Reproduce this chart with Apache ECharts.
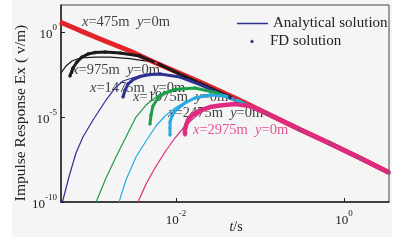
<!DOCTYPE html>
<html>
<head>
<meta charset="utf-8">
<script src="https://cdn.jsdelivr.net/npm/echarts@6/dist/echarts.min.js"></script>
<style>
  html, body { margin: 0; padding: 0; background: #fff; }
  #chart { width: 402px; height: 244px; }
</style>
</head>
<body>
<div id="chart"></div>
<script>
// tick values (t in s, Ex in v/m)
const xTickVals = [1e-2, 1e0];
const yTickVals = [1e-10, 1e-5, 1e0];

// offsets and labels
const offsets = ['475', '975', '1475', '1975', '2475', '2975'];
const curveColors = ['#e3242b', '#1a1a1a', '#2e3192', '#1f9e4a', '#27aae1', '#de2a7f'];

// anchor of each curve label [t, Ex]
const labelAnchors = [
  [7.6e-4, 3.9], [5.78e-4, 5.82e-3], [9.46e-4, 5.08e-4],
  [3.08e-3, 1.5e-4], [8.03e-3, 1.72e-5], [1.59e-2, 1.72e-6]
];

// late-time part, shared by every offset
const lateTime = [[0.121, 1.61e-5], [0.299, 1.84e-6], [0.681, 2.76e-7], [1.55, 3.87e-8], [3.43, 5.43e-9]];

// analytical solution
const ana475 = [[4.16e-4, 3.88], [7.2e-4, 1.22], [1.25e-3, 0.388], [2.83e-3, 0.0762], [5.78e-3, 0.0150],
  [1.93e-2, 1.15e-3], [5.04e-2, 1.31e-4]];
const ana975 = [[4.28e-4, 3.88e-3], [4.9e-4, 1.0e-2], [5.78e-4, 1.97e-2], [7.2e-4, 2.96e-2], [1.09e-3, 3.38e-2],
  [1.64e-3, 3.38e-2], [2.83e-3, 2.76e-2], [4.9e-3, 1.84e-2], [7.4e-3, 8.16e-3], [1.28e-2, 2.41e-3],
  [1.93e-2, 1.0e-3], [4.4e-2, 1.5e-4]];
const ana1475 = [[4.45e-4, 1.0e-10], [5.32e-4, 2.96e-9], [6.45e-4, 7.62e-8], [7.81e-4, 6.66e-7], [1.03e-3, 6.66e-6],
  [1.47e-3, 1.0e-4], [1.88e-3, 5.08e-4], [2.34e-3, 1.31e-3], [3.73e-3, 2.76e-3], [6.45e-3, 3.38e-3],
  [1.12e-2, 2.25e-3], [1.93e-2, 8.16e-4], [4.4e-2, 1.31e-4]];
const ana1975 = [[1.12e-3, 1.0e-10], [1.47e-3, 2.58e-9], [1.93e-3, 4.44e-8], [2.54e-3, 6.66e-7], [3.34e-3, 1.0e-5],
  [4.4e-3, 5.08e-5], [6.45e-3, 2.25e-4], [9.73e-3, 4.75e-4], [1.68e-2, 5.43e-4], [2.91e-2, 2.76e-4],
  [5.78e-2, 8.16e-5]];
const ana2475 = [[2.1e-3, 1.0e-10], [2.54e-3, 1.97e-9], [3.34e-3, 4.44e-8], [4.4e-3, 3.87e-7], [5.78e-3, 2.96e-6],
  [7.4e-3, 1.15e-5], [9.73e-3, 3.38e-5], [1.28e-2, 7.62e-5], [1.68e-2, 1.4e-4], [2.54e-2, 1.97e-4],
  [3.83e-2, 1.72e-4], [5.78e-2, 8.16e-5]];
const ana2975 = [[3.53e-3, 1.0e-10], [4.4e-3, 1.15e-9], [5.62e-3, 1.0e-8], [7.4e-3, 8.73e-8], [9.73e-3, 5.82e-7],
  [1.28e-2, 2.96e-6], [1.68e-2, 1.0e-5], [2.21e-2, 2.58e-5], [3.34e-2, 4.75e-5], [5.04e-2, 5.82e-5],
  [7.6e-2, 4.44e-5]];

// FD solution
const fd475 = ana475;
const fd975 = [[5.47e-4, 2.58e-3], [5.94e-4, 7.62e-3], [6.63e-4, 1.72e-2], [7.6e-4, 3.38e-2], [8.96e-4, 5.08e-2],
  [1.09e-3, 6.22e-2], [1.43e-3, 6.66e-2], [2.16e-3, 5.82e-2], [3.73e-3, 3.88e-2], [6.45e-3, 1.22e-2],
  [1.28e-2, 2.41e-3], [1.93e-2, 1.0e-3], [4.4e-2, 1.5e-4]];
const fd1475 = [[2.34e-3, 1.5e-4], [2.48e-3, 3.88e-4], [2.68e-3, 8.73e-4], [3.08e-3, 1.61e-3], [3.73e-3, 2.41e-3],
  [4.9e-3, 3.16e-3], [6.45e-3, 3.38e-3], [1.12e-2, 2.25e-3], [1.93e-2, 8.16e-4], [4.4e-2, 1.31e-4]];
const fd1975 = [[4.9e-3, 3.87e-6], [5.04e-3, 1.31e-5], [5.32e-3, 4.44e-5], [6.11e-3, 1.31e-4], [7.4e-3, 2.58e-4],
  [9.73e-3, 4.15e-4], [1.68e-2, 5.08e-4], [2.91e-2, 2.76e-4], [5.78e-2, 8.16e-5]];
const fd2475 = [[8.49e-3, 8.73e-7], [8.49e-3, 2.25e-6], [8.49e-3, 5.08e-6], [8.96e-3, 1.15e-5], [1.0e-2, 2.58e-5],
  [1.28e-2, 6.66e-5], [1.68e-2, 1.31e-4], [2.54e-2, 1.97e-4], [3.83e-2, 1.72e-4], [5.78e-2, 8.16e-5]];
const fd2975 = [[1.28e-2, 8.73e-7], [1.28e-2, 1.72e-6], [1.32e-2, 3.38e-6], [1.39e-2, 6.66e-6], [1.55e-2, 1.31e-5],
  [1.93e-2, 2.41e-5], [2.54e-2, 3.88e-5], [3.34e-2, 4.75e-5], [5.04e-2, 5.82e-5], [7.6e-2, 4.44e-5]];

const anaList = [ana475, ana975, ana1475, ana1975, ana2475, ana2975];
const fdList = [fd475, fd975, fd1475, fd1975, fd2475, fd2975];
const fdWidths = [5, 3, 3, 3, 3, 4.5];

const SERIF = '"Liberation Serif", "DejaVu Serif", serif';
const legendColor = '#2e3192';

function powLabel(v) {
  const e = Math.round(Math.log10(v));
  return '{b|10}{s|' + (e < 0 ? '-' + (-e) : e) + '}';
}
const powRich = {
  b: { fontFamily: SERIF, fontSize: 13, color: '#222', lineHeight: 18, verticalAlign: 'bottom' },
  s: { fontFamily: SERIF, fontSize: 9, color: '#222', lineHeight: 18, verticalAlign: 'top' }
};

const series = [];

// curve labels, under the curves
series.push({
  name: 'labels',
  type: 'scatter',
  symbolSize: 0.1,
  itemStyle: { color: 'rgba(0,0,0,0)' },
  silent: true,
  z: 1,
  data: labelAnchors.map((p, i) => ({ value: p, name: offsets[i] })),
  label: {
    show: true,
    position: 'right',
    distance: 0,
    formatter: p => '{i|x}=' + p.name + 'm  {i|y}=0m',
    fontFamily: SERIF,
    fontSize: 14.5,
    color: '#111',
    rich: { i: { fontFamily: SERIF, fontSize: 14.5, fontStyle: 'italic' } }
  },
  labelLayout: { hideOverlap: false }
});
// last label is magenta
series[0].data[5].label = { color: curveColors[5], rich: { i: { color: curveColors[5], fontStyle: 'italic', fontFamily: SERIF, fontSize: 14.5 } } };

offsets.forEach((o, i) => {
  series.push({
    name: 'Analytical solution',
    type: 'line',
    symbol: 'none',
    z: 2,
    lineStyle: { color: curveColors[i], width: 1.2 },
    itemStyle: { color: curveColors[i] },
    data: anaList[i].concat(lateTime)
  });
  series.push({
    name: 'FD solution',
    type: 'line',
    symbol: 'diamond',
    symbolSize: 4,
    showAllSymbol: true,
    z: 3,
    lineStyle: { color: curveColors[i], width: fdWidths[i] },
    itemStyle: { color: curveColors[i] },
    data: fdList[i].concat(lateTime)
  });
});

const legendText = { fontFamily: SERIF, fontSize: 15, color: '#222' };

const chart = echarts.init(document.getElementById('chart'), null, { renderer: 'canvas' });
chart.setOption({
  animation: false,
  backgroundColor: '#fff',
  graphic: [
    { type: 'rect', z: -10, silent: true, shape: { x: 12, y: 0, width: 380, height: 237 }, style: { fill: '#f5f5f5' } },
    {
      type: 'text', x: 21, y: 113, rotation: Math.PI / 2, silent: true,
      style: { text: 'Impulse Response Ex ( v/m)', font: '15.5px ' + SERIF, fill: '#222', align: 'center', verticalAlign: 'middle' }
    },
    {
      type: 'text', x: 236, y: 227, silent: true,
      style: {
        text: '{i|t}/s', fill: '#222', align: 'center', verticalAlign: 'middle',
        font: '14px ' + SERIF,
        rich: { i: { fontStyle: 'italic', fontFamily: SERIF, fontSize: 14 } }
      }
    }
  ],
  legend: [
    {
      left: 232, top: 11,
      itemWidth: 31, itemHeight: 1.5,
      selectedMode: false,
      textStyle: legendText,
      data: [{ name: 'Analytical solution', icon: 'rect', itemStyle: { color: legendColor } }]
    },
    {
      left: 245, top: 29,
      itemWidth: 4, itemHeight: 4,
      selectedMode: false,
      textStyle: Object.assign({ padding: [0, 0, 0, 11] }, legendText),
      data: [{ name: 'FD solution', icon: 'diamond', itemStyle: { color: legendColor } }]
    }
  ],
  grid: {
    left: 61, right: 13, top: 5, bottom: 42,
    show: true, borderColor: '#444', borderWidth: 1, backgroundColor: 'transparent'
  },
  xAxis: {
    type: 'log',
    logBase: 10,
    min: 4.28e-4,
    max: 3.43,
    axisLine: { lineStyle: { color: '#222', width: 1.5 } },
    axisTick: { inside: true, length: 4, lineStyle: { color: '#222' }, customValues: xTickVals },
    axisLabel: { customValues: xTickVals, formatter: powLabel, rich: powRich, margin: 7 },
    splitLine: { show: false },
    minorTick: { show: false }
  },
  yAxis: {
    type: 'log',
    logBase: 10,
    min: 1e-10,
    max: 39,
    axisLine: { lineStyle: { color: '#222', width: 1.5 } },
    axisTick: { inside: true, length: 4, lineStyle: { color: '#222' }, customValues: yTickVals },
    axisLabel: { customValues: yTickVals, formatter: powLabel, rich: powRich, margin: 4 },
    splitLine: { show: false },
    minorTick: { show: false }
  },
  series: series
});
</script>
</body>
</html>
